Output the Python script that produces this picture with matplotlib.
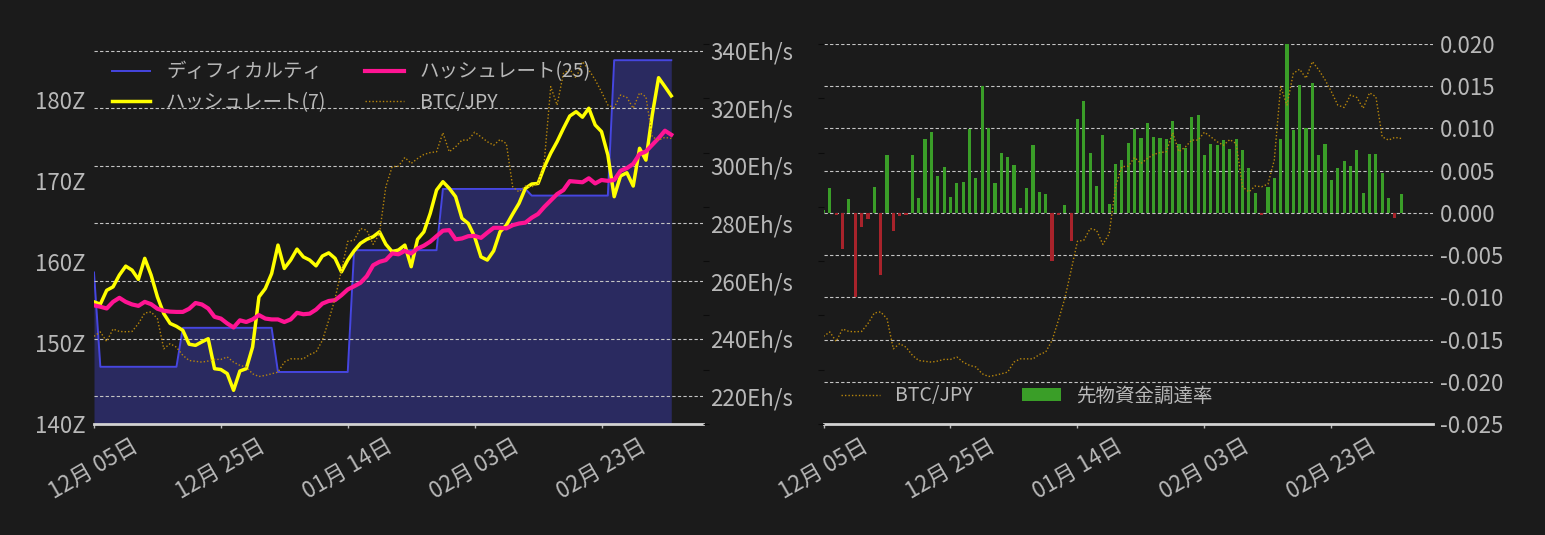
import numpy as np
import pandas as pd
import matplotlib
matplotlib.use('Agg')
import matplotlib.pyplot as plt
import matplotlib.dates as mdates
from matplotlib.ticker import FuncFormatter, FixedLocator

plt.rcParams['font.family'] = ['Noto Sans CJK JP', 'DejaVu Sans']
plt.rcParams['axes.unicode_minus'] = False

# ---------------- data ----------------
start_date = '2022-12-05'
dates = pd.date_range(start_date, periods=92, freq='D')

# difficulty (x 2^32, in Z hashes)
difficulty_z = [
    158.70, 147.06, 147.06, 147.06, 147.06, 147.06, 147.06, 147.06, 147.06, 147.06,
    147.06, 147.06, 147.06, 147.06, 151.87, 151.87, 151.87, 151.87, 151.87, 151.87,
    151.87, 151.87, 151.87, 151.87, 151.87, 151.87, 151.87, 151.87, 151.87, 146.42,
    146.42, 146.42, 146.42, 146.42, 146.42, 146.42, 146.42, 146.42, 146.42, 146.42,
    146.42, 161.45, 161.45, 161.45, 161.45, 161.45, 161.45, 161.45, 161.45, 161.45,
    161.45, 161.45, 161.45, 161.45, 161.45, 169.01, 169.01, 169.01, 169.01, 169.01,
    169.01, 169.01, 169.01, 169.01, 169.01, 169.01, 169.01, 169.01, 169.01, 168.19,
    168.19, 168.19, 168.19, 168.19, 168.19, 168.19, 168.19, 168.19, 168.19, 168.19,
    168.19, 168.19, 184.90, 184.90, 184.90, 184.90, 184.90, 184.90, 184.90, 184.90,
    184.90, 184.90,
]

# hash rate moving averages (Eh/s)
hashrate_7 = [
    252.8, 252.0, 256.8, 258.0, 262.1, 265.2, 263.8, 260.6, 267.9, 262.1,
    254.5, 248.7, 245.3, 244.3, 242.9, 238.1, 237.7, 238.9, 240.0, 229.6,
    229.3, 227.9, 222.1, 228.8, 229.6, 237.1, 254.5, 257.4, 262.6, 272.5,
    264.4, 267.3, 271.1, 268.4, 267.3, 265.3, 268.7, 269.8, 267.9, 263.2,
    267.3, 270.5, 273.1, 274.5, 275.4, 277.1, 272.8, 270.2, 270.8, 272.5,
    265.0, 274.5, 277.1, 283.5, 291.6, 294.5, 292.2, 289.3, 281.8, 280.0,
    275.4, 268.4, 267.3, 270.5, 277.1, 279.4, 283.3, 287.0, 292.2, 293.7,
    293.9, 299.7, 304.4, 308.4, 313.0, 317.3, 318.8, 316.9, 320.0, 314.2,
    311.9, 303.8, 289.3, 296.5, 297.6, 293.0, 306.1, 302.0, 317.7, 330.6,
    327.5, 324.3,
]
hashrate_25 = [
    251.6, 251.1, 250.5, 252.8, 254.2, 252.8, 251.9, 251.4, 252.8, 252.0,
    250.4, 249.7, 249.4, 249.3, 249.3, 250.4, 252.4, 251.9, 250.5, 247.6,
    247.0, 245.3, 243.9, 246.4, 245.8, 246.7, 248.2, 247.0, 246.7, 246.7,
    245.8, 246.7, 249.0, 248.5, 248.7, 250.1, 252.2, 253.1, 253.4, 255.1,
    257.1, 258.2, 259.4, 261.7, 265.5, 266.7, 267.3, 269.6, 269.3, 270.5,
    269.6, 271.3, 272.3, 273.7, 275.6, 277.5, 277.7, 274.5, 274.8, 275.6,
    275.7, 275.0, 276.8, 278.5, 278.5, 278.3, 279.4, 280.0, 280.3, 282.0,
    283.3, 285.8, 288.0, 290.2, 291.6, 294.7, 294.5, 294.3, 295.7, 293.9,
    295.1, 294.8, 295.1, 298.3, 299.2, 300.7, 304.1, 305.0, 307.3, 309.6,
    312.2, 310.8,
]

# BTC/JPY (million yen)
btc_jpy_million = [
    2.323, 2.339, 2.304, 2.350, 2.341, 2.340, 2.341, 2.370, 2.409, 2.413,
    2.388, 2.277, 2.296, 2.283, 2.253, 2.234, 2.231, 2.228, 2.232, 2.238,
    2.238, 2.247, 2.228, 2.216, 2.210, 2.185, 2.175, 2.179, 2.185, 2.191,
    2.228, 2.240, 2.240, 2.240, 2.256, 2.265, 2.308, 2.382, 2.462, 2.566,
    2.673, 2.677, 2.720, 2.714, 2.662, 2.701, 2.874, 2.948, 2.950, 2.982,
    2.960, 2.978, 2.993, 3.000, 3.003, 3.073, 3.003, 3.021, 3.046, 3.046,
    3.075, 3.058, 3.040, 3.027, 3.048, 3.033, 2.874, 2.855, 2.877, 2.874,
    2.884, 2.972, 3.243, 3.175, 3.292, 3.307, 3.274, 3.335, 3.305, 3.268,
    3.224, 3.175, 3.166, 3.212, 3.203, 3.163, 3.220, 3.206, 3.058, 3.046,
    3.056, 3.052,
]

# futures funding rate
funding_rate = [
    0.0004, 0.0030, -0.0002, -0.0043, 0.0016, -0.0100, -0.0017, -0.0007, 0.0031, -0.0073,
    0.0068, -0.0021, -0.0004, -0.0002, 0.0068, 0.0018, 0.0087, 0.0096, 0.0044, 0.0054,
    0.0019, 0.0035, 0.0037, 0.0099, 0.0041, 0.0150, 0.0100, 0.0035, 0.0071, 0.0066,
    0.0057, 0.0006, 0.0029, 0.0080, 0.0025, 0.0022, -0.0057, -0.0003, 0.0009, -0.0033,
    0.0111, 0.0133, 0.0071, 0.0032, 0.0092, 0.0011, 0.0058, 0.0063, 0.0083, 0.0099,
    0.0089, 0.0107, 0.0090, 0.0089, 0.0087, 0.0109, 0.0082, 0.0077, 0.0113, 0.0116,
    0.0069, 0.0081, 0.0080, 0.0086, 0.0076, 0.0087, 0.0074, 0.0053, 0.0023, -0.0002,
    0.0031, 0.0041, 0.0087, 0.0205, 0.0098, 0.0152, 0.0101, 0.0154, 0.0068, 0.0082,
    0.0039, 0.0053, 0.0061, 0.0055, 0.0074, 0.0024, 0.0070, 0.0070, 0.0047, 0.0018,
    -0.0006, 0.0022,
]

difficulty_ticks = [140, 150, 160, 170, 180]
hashrate_ticks = [220, 240, 260, 280, 300, 320, 340]
funding_ticks = [-0.025, -0.020, -0.015, -0.010, -0.005, 0.000, 0.005, 0.010, 0.015, 0.020]
btc_ticks = [2.0e6, 2.2e6, 2.4e6, 2.6e6, 2.8e6, 3.0e6, 3.2e6, 3.4e6]

btc_jpy = np.array(btc_jpy_million) * 1e6

# ---------------- style ----------------
BG = '#1b1b1b'
TXT = '#b8b8b8'
GRID = '#c4c4c4'
SPINE = '#d2d2d2'
C_DIFF = '#4646e0'
C_FILL = '#2a2a60'
C_HR7 = '#ffff00'
C_HR25 = '#ff1493'
C_BTC = '#b8860b'
C_POS = '#3a9e28'
C_NEG = '#a8232b'
TICK_FS = 16
LEG_FS = 14

fig = plt.figure(figsize=(15.45, 5.35), dpi=100, facecolor=BG)
W, H = 1545.0, 535.0
bottom = 1 - 424 / H
height = (424 - 44) / H

x_end = dates[0] + pd.Timedelta(days=96)
xticks = dates[::20]


def style_base(ax):
    ax.set_facecolor(BG)
    for s in ['top', 'left', 'right']:
        ax.spines[s].set_visible(False)
    ax.spines['bottom'].set_color(SPINE)
    ax.spines['bottom'].set_linewidth(2)
    ax.set_xlim(dates[0], x_end)
    ax.set_xticks(xticks)
    ax.xaxis.set_major_formatter(mdates.DateFormatter('%m月 %d日'))
    ax.tick_params(axis='x', colors=TXT, labelcolor=TXT, labelsize=TICK_FS,
                   labelrotation=30, length=3, width=1, pad=4)


def style_twin(ax):
    ax.patch.set_visible(False)
    for s in ax.spines.values():
        s.set_visible(False)


# ---------------- left chart ----------------
ax1 = fig.add_axes([94 / W, bottom, (703 - 94) / W, height])
style_base(ax1)
ax1.fill_between(dates, 140, difficulty_z, color=C_FILL, linewidth=0, zorder=1)
l_diff, = ax1.plot(dates, difficulty_z, color=C_DIFF, lw=1.4, label='ディフィカルティ', zorder=2)
ax1.set_ylim(140, 186.9)
ax1.set_yticks(difficulty_ticks)
ax1.yaxis.set_major_formatter(FuncFormatter(lambda v, p: f'{v:.0f}Z'))

ax2 = ax1.twinx()
style_twin(ax2)
ax2.set_ylim(210.4, 342.3)
ax2.set_yticks(hashrate_ticks)
ax2.yaxis.set_major_formatter(FuncFormatter(lambda v, p: f'{v:.0f}Eh/s'))
ax2.grid(axis='y', color=GRID, linestyle=(0, (3, 2)), linewidth=0.8)
ax2.set_axisbelow(True)
l_hr7, = ax2.plot(dates, hashrate_7, color=C_HR7, lw=2.5, label='ハッシュレート(7)')
l_hr25, = ax2.plot(dates, hashrate_25, color=C_HR25, lw=3, label='ハッシュレート(25)')

ax3 = ax1.twinx()
style_twin(ax3)
ax3.set_ylim(2.0e6, 3.4e6)
ax3.yaxis.set_major_locator(FixedLocator(btc_ticks))
ax3.tick_params(axis='y', length=4, color='#0c0c0c', labelright=False, labelleft=False)
l_btc, = ax3.plot(dates, btc_jpy, color=C_BTC, lw=1.0, linestyle=(0, (1, 1.5)),
                  label='BTC/JPY')

# set axis sides after twins were created
ax1.yaxis.tick_left()
ax1.tick_params(axis='y', length=0, labelsize=TICK_FS, labelcolor=TXT, pad=6)
ax2.yaxis.tick_right()
ax2.tick_params(axis='y', length=0, labelsize=TICK_FS, labelcolor=TXT, pad=5)

ax3.legend(handles=[l_diff, l_hr7, l_hr25, l_btc], ncol=2, loc='upper left',
           frameon=False, fontsize=LEG_FS, labelcolor=TXT,
           columnspacing=2.0, borderaxespad=0.5)

# ---------------- right chart ----------------
axr = fig.add_axes([823.5 / W, bottom, (1433 - 823.5) / W, height])
style_base(axr)
bar_colors = [C_POS if v >= 0 else C_NEG for v in funding_rate]
bars = axr.bar(dates, funding_rate, width=0.5, color=bar_colors, label='先物資金調達率', zorder=2)
axr.set_ylim(-0.025, 0.020)
axr.set_yticks(funding_ticks)
axr.yaxis.set_major_formatter(FuncFormatter(lambda v, p: f'{v:.3f}'))
axr.grid(axis='y', color=GRID, linestyle=(0, (3, 2)), linewidth=0.8, zorder=0)
axr.set_axisbelow(True)

axb = axr.twinx()
style_twin(axb)
axb.set_ylim(2.0e6, 3.4e6)
axb.yaxis.set_major_locator(FixedLocator(btc_ticks))
r_btc, = axb.plot(dates, btc_jpy, color=C_BTC, lw=1.0, linestyle=(0, (1, 1.5)),
                  label='BTC/JPY')

axr.yaxis.tick_right()
axr.tick_params(axis='y', length=0, labelsize=TICK_FS, labelcolor=TXT, pad=5)
axb.yaxis.tick_left()
axb.tick_params(axis='y', length=4, color='#0c0c0c', labelleft=False, labelright=False)

bars[0].set_facecolor(C_POS)
axb.legend(handles=[r_btc, bars], labels=['BTC/JPY', '先物資金調達率'], ncol=2,
           loc='lower left', frameon=False, fontsize=LEG_FS, labelcolor=TXT,
           columnspacing=2.5, borderaxespad=0.5)

fig.savefig('out.png', dpi=100, facecolor=BG)
